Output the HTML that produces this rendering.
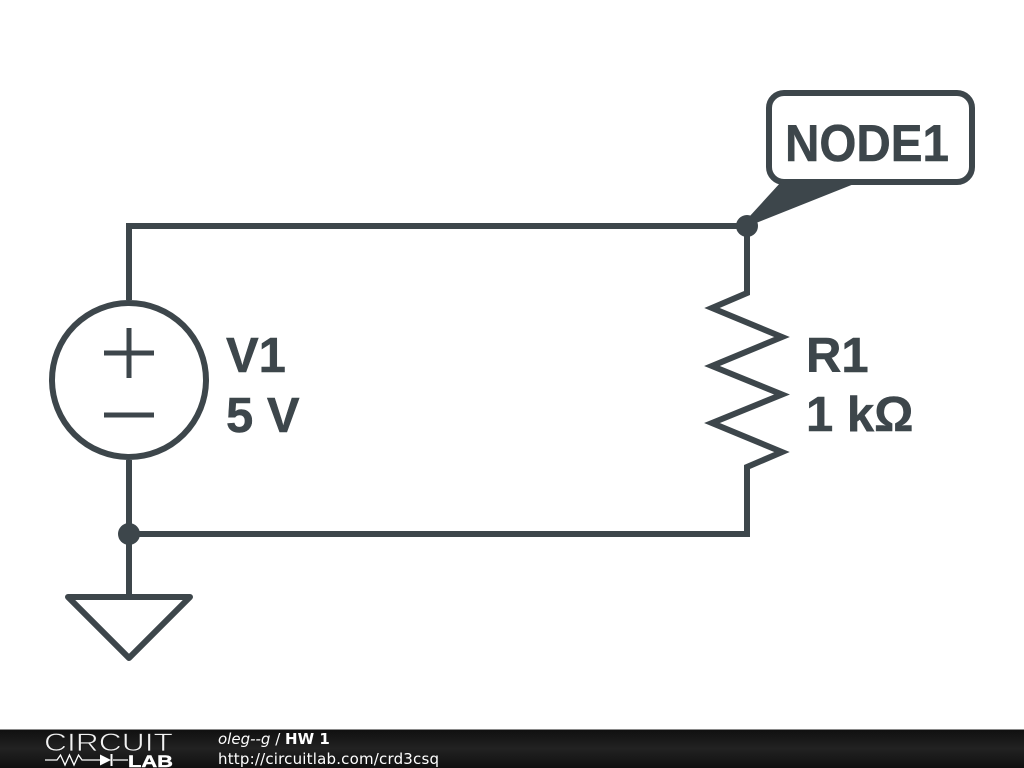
<!DOCTYPE html>
<html>
<head>
<meta charset="utf-8">
<style>
html,body{margin:0;padding:0;background:#fff;width:1024px;height:768px;overflow:hidden}
svg{display:block;position:absolute;left:0;top:0}
</style>
</head>
<body>
<svg width="1024" height="768" viewBox="0 0 1024 768" xmlns="http://www.w3.org/2000/svg">
<defs>
<linearGradient id="bar" x1="0" y1="0" x2="0" y2="1">
<stop offset="0" stop-color="#0f0f0f"/>
<stop offset="0.5" stop-color="#222222"/>
<stop offset="1" stop-color="#101010"/>
</linearGradient>
</defs>
<rect width="1024" height="768" fill="#fff"/>
<g fill="none" stroke="#3d464b" stroke-width="6" stroke-linejoin="round" stroke-linecap="round">
<path d="M129 300V226H747V293L712 308L782 337L712 366L782 394.500L712 423L782 452L747 467V534H129V460" stroke-linejoin="miter" stroke-miterlimit="10" stroke-linecap="butt"/>
<path d="M129 534V597"/>
<path d="M68 597H190L129 658Z"/>
<circle cx="129" cy="380" r="77"/>
<rect x="769" y="93" width="203" height="89" rx="15" ry="15"/>
<path d="M104 353H154M129 328V378M104 415H154" stroke-width="5" stroke-linecap="butt"/>
</g>
<polygon points="781,182 859,182 756,223 749,217" fill="#3d464b"/>
<circle cx="747" cy="226" r="11" fill="#3d464b"/>
<circle cx="129" cy="534" r="11" fill="#3d464b"/>
<g font-family="'Liberation Sans',sans-serif" font-weight="700" fill="#3d464b" stroke="#3d464b" stroke-width="0.5" font-size="49">
<text x="785" y="161" font-size="52" textLength="164" lengthAdjust="spacingAndGlyphs">NODE1</text>
<text x="226" y="372">V1</text>
<text x="226" y="432">5 V</text>
<text x="806" y="372">R1</text>
<text x="806" y="431">1 kΩ</text>
</g>
<rect x="0" y="729" width="1024" height="39" fill="url(#bar)"/>
<rect x="0" y="729" width="1024" height="1" fill="#8a8a8a"/>
<text x="44" y="751" font-family="'Liberation Sans',sans-serif" font-size="25" fill="#f2f2f2" stroke="#1a1a1a" stroke-width="0.7" textLength="129" lengthAdjust="spacingAndGlyphs">CIRCUIT</text>
<path d="M45 760H57L60.500 755L65 765L69.500 755L74 765L78.500 755L82 760H100M113 760H128" fill="none" stroke="#fff" stroke-width="1.300"/>
<polygon points="100,754.500 111,760 100,765.500" fill="#fff"/>
<rect x="110.500" y="754" width="2" height="12" fill="#fff"/>
<text x="128" y="767" font-family="'Liberation Sans',sans-serif" font-weight="700" font-size="16.500" fill="#fff" stroke="#fff" stroke-width="0.4" textLength="45" lengthAdjust="spacingAndGlyphs">LAB</text>
<text x="218" y="744" font-family="'DejaVu Sans',sans-serif" font-size="15" fill="#fff"><tspan font-style="oblique">oleg--g</tspan> / <tspan font-weight="700">HW 1</tspan></text>
<text x="218" y="764" font-family="'DejaVu Sans',sans-serif" font-size="15" fill="#fff" textLength="221">http://circuitlab.com/crd3csq</text>
</svg>
</body>
</html>
